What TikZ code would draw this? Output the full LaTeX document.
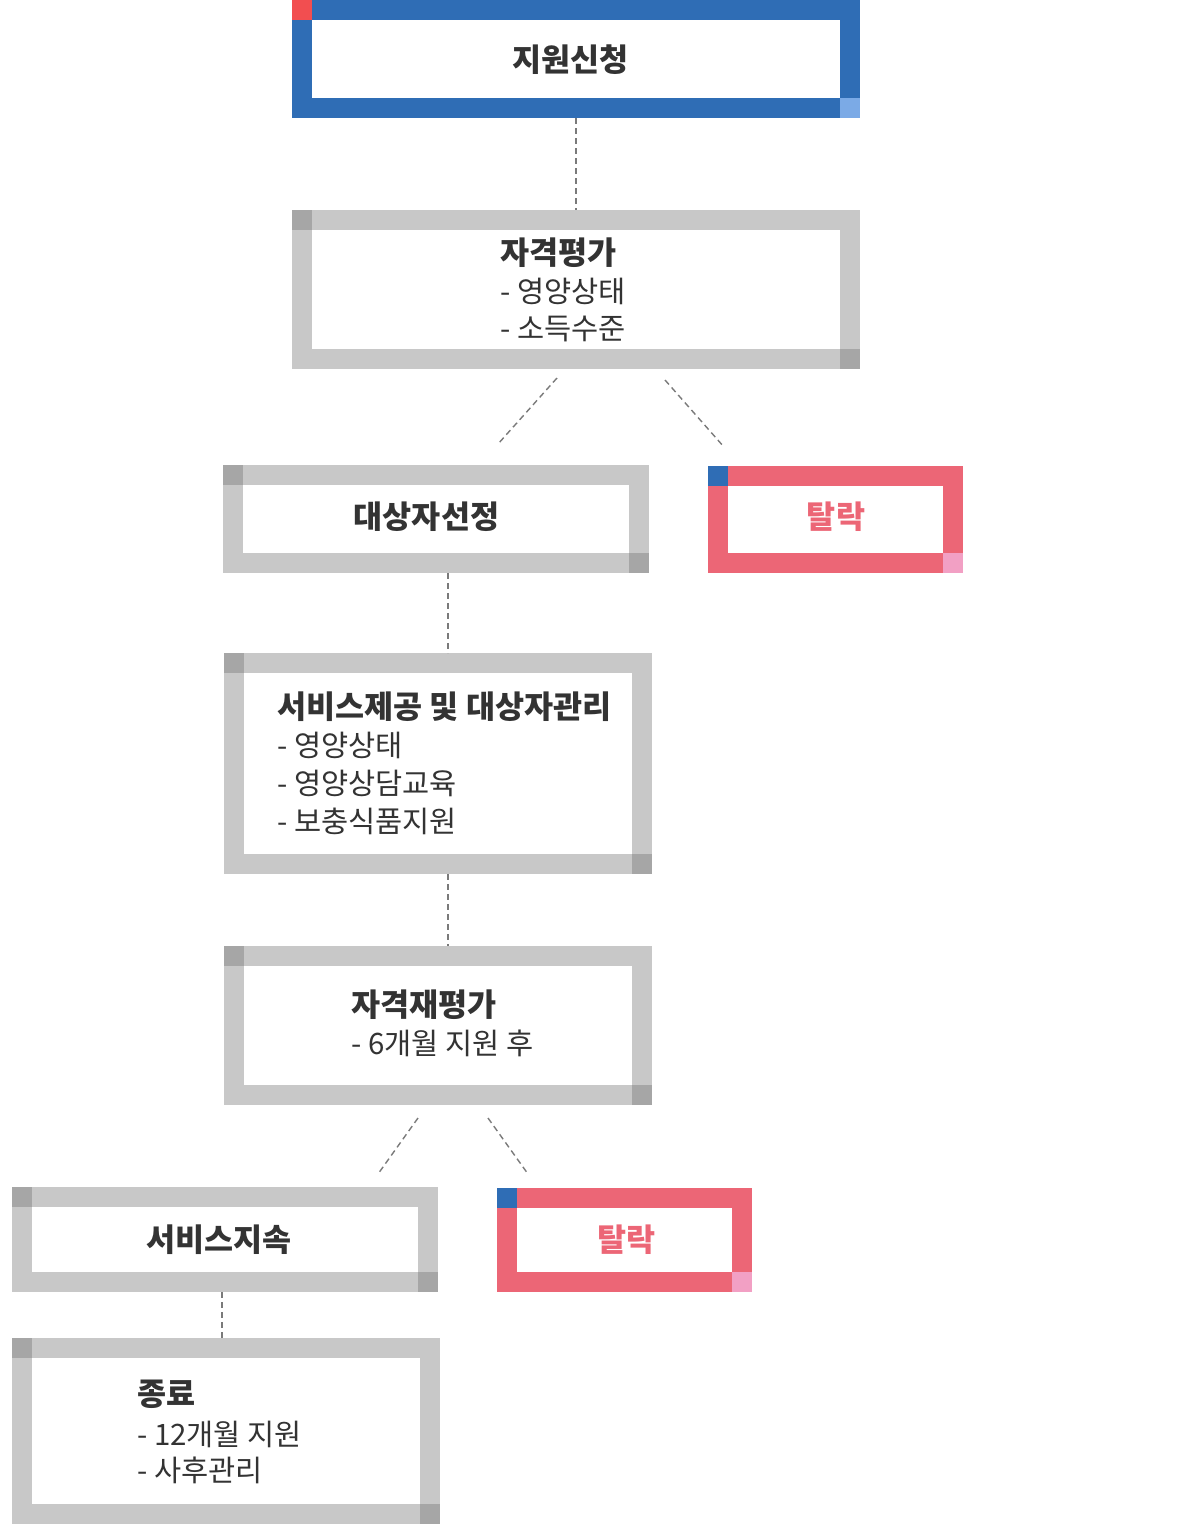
\documentclass[tikz,border=0pt]{standalone}
\usepackage{fontspec}
\newfontfamily\kr{Noto Sans CJK KR}
\usetikzlibrary{calc}
\definecolor{cblue}{HTML}{2F6DB5}
\definecolor{cred}{HTML}{F24E50}
\definecolor{clblue}{HTML}{7BAAE6}
\definecolor{cgrey}{HTML}{C8C8C8}
\definecolor{cdgrey}{HTML}{A6A6A6}
\definecolor{cpink}{HTML}{EC6676}
\definecolor{cpinkc}{HTML}{F2A0C4}
\definecolor{ctext}{HTML}{333333}
\definecolor{cline}{HTML}{7A7A7A}
\begin{document}
\begin{tikzpicture}[x=1pt,y=-1pt,
  frame/.style={draw=#1, line width=20pt, fill=white, inner sep=0pt},
  conn/.style={draw=cline, line width=1.4pt, dash pattern=on 6pt off 4pt},
  ttl/.style={text=ctext, font=\kr\bfseries\fontsize{31.6}{36}\selectfont, inner sep=0pt},
  itm/.style={text=ctext, font=\kr\fontsize{29.5}{34}\selectfont, inner sep=0pt},
  rttl/.style={text=cpink, font=\kr\bfseries\fontsize{31.6}{36}\selectfont, inner sep=0pt}]
\useasboundingbox[fill=white] (0,0) rectangle (1201,1524);

% boxes
\node[frame=cblue, minimum width=548pt, minimum height=98pt] (b1) at (576,59) {};
\fill[cred] (b1.north west) rectangle ++(20,20);
\fill[clblue] (b1.south east) rectangle ++(-20,-20);

\node[frame=cgrey, minimum width=548pt, minimum height=139pt] (b2) at (576,289.5) {};
\fill[cdgrey] (b2.north west) rectangle ++(20,20);
\fill[cdgrey] (b2.south east) rectangle ++(-20,-20);

\node[frame=cgrey, minimum width=406pt, minimum height=88pt] (b3) at (436,519) {};
\fill[cdgrey] (b3.north west) rectangle ++(20,20);
\fill[cdgrey] (b3.south east) rectangle ++(-20,-20);

\node[frame=cpink, minimum width=235pt, minimum height=87pt] (b4) at (835.5,519.5) {};
\fill[cblue] (b4.north west) rectangle ++(20,20);
\fill[cpinkc] (b4.south east) rectangle ++(-20,-20);

\node[frame=cgrey, minimum width=408pt, minimum height=201pt] (b5) at (438,763.5) {};
\fill[cdgrey] (b5.north west) rectangle ++(20,20);
\fill[cdgrey] (b5.south east) rectangle ++(-20,-20);

\node[frame=cgrey, minimum width=408pt, minimum height=139pt] (b6) at (438,1025.5) {};
\fill[cdgrey] (b6.north west) rectangle ++(20,20);
\fill[cdgrey] (b6.south east) rectangle ++(-20,-20);

\node[frame=cgrey, minimum width=406pt, minimum height=85pt] (b7) at (225,1239.5) {};
\fill[cdgrey] (b7.north west) rectangle ++(20,20);
\fill[cdgrey] (b7.south east) rectangle ++(-20,-20);

\node[frame=cpink, minimum width=235pt, minimum height=84pt] (b8) at (624.5,1240) {};
\fill[cblue] (b8.north west) rectangle ++(20,20);
\fill[cpinkc] (b8.south east) rectangle ++(-20,-20);

\node[frame=cgrey, minimum width=408pt, minimum height=166pt] (b9) at (226,1431) {};
\fill[cdgrey] (b9.north west) rectangle ++(20,20);
\fill[cdgrey] (b9.south east) rectangle ++(-20,-20);

% texts
\node[ttl] (t1) at (570.5,60) {지원신청};

\node[ttl, anchor=base west] (t2a) at (500,264) {자격평가};
\node[itm, anchor=base west] (t2b) at (500,302) {- 영양상태};
\node[itm, anchor=base west] (t2c) at (500,339) {- 소득수준};

\node[ttl] (t3) at (426.5,517) {대상자선정};
\node[rttl] (t4) at (836,517) {탈락};

\node[ttl, anchor=base west] (t5a) at (277,718) {서비스제공 및 대상자관리};
\node[itm, anchor=base west] (t5b) at (277,756) {- 영양상태};
\node[itm, anchor=base west] (t5c) at (277,794) {- 영양상담교육};
\node[itm, anchor=base west] (t5d) at (277,832) {- 보충식품지원};

\node[ttl, anchor=base west] (t6a) at (351,1016) {자격재평가};
\node[itm, anchor=base west] (t6b) at (351,1054) {- 6개월 지원 후};

\node[ttl] (t7) at (219,1240) {서비스지속};
\node[rttl] (t8) at (626.5,1240) {탈락};

\node[ttl, anchor=base west] (t9a) at (137,1405) {종료};
\node[itm, anchor=base west] (t9b) at (137,1445) {- 12개월 지원};
\node[itm, anchor=base west] (t9c) at (137,1481) {- 사후관리};

% connectors
\draw[conn] (b1.south) -- (b2.north);
\draw[conn] ($(b2.south)+(-19,9)$) -- ($(b3.north)+(62,-21)$);
\draw[conn] ($(b2.south)+(89,11)$) -- ($(b4.north)+(-111.5,-19)$);
\draw[conn] ($(b3.south)+(12,0)$) -- ($(b5.north)+(10,0)$);
\draw[conn] ($(b5.south)+(10,0)$) -- ($(b6.north)+(10,0)$);
\draw[conn] ($(b6.south)+(-20,13)$) -- ($(b7.north)+(153,-13)$);
\draw[conn] ($(b6.south)+(50,13)$) -- ($(b8.north)+(-96.5,-14)$);
\draw[conn] ($(b7.south)+(-3,0)$) -- ($(b9.north)+(-4,0)$);
\end{tikzpicture}
\end{document}
